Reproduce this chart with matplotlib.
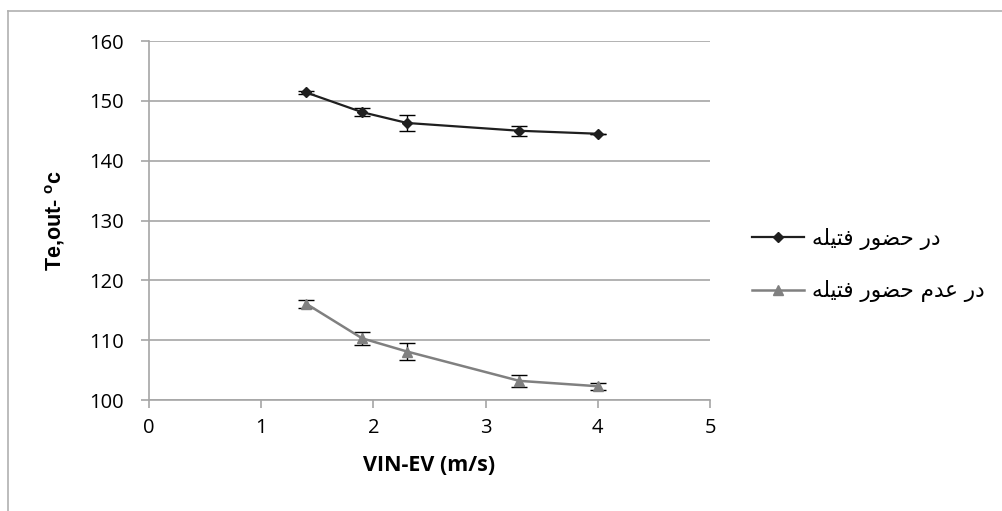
import matplotlib.pyplot as plt
from matplotlib.lines import Line2D

# velocity (m/s)
vin = [1.4, 1.9, 2.3, 3.3, 4.0]

# outlet temperature with wick / without wick
te_wick = [151.4, 148.1, 146.3, 145.0, 144.5]
err_wick = [0.3, 0.7, 1.3, 0.85, 0.0]
te_nowick = [116.1, 110.3, 108.1, 103.2, 102.3]
err_nowick = [0.65, 1.1, 1.35, 0.95, 0.6]

# legend labels, pre-shaped arabic presentation forms in visual order
# "در حضور فتیله" and "در عدم حضور فتیله"
w_fatile = "\uFEEA\uFEE0\uFEF4\uFE98\uFED3"
w_hozur = "\uFEAD\uFEEE\uFEC0\uFEA3"
w_adam = "\uFEE1\uFEAA\uFECB"
w_dar = "\uFEAD\uFEA9"
label_wick = " ".join([w_fatile, w_hozur, w_dar])
label_nowick = " ".join([w_fatile, w_hozur, w_adam, w_dar])

xticks = [0, 1, 2, 3, 4, 5]
yticks = [100, 110, 120, 130, 140, 150, 160]

plt.rcParams['font.family'] = ['Open Sans', 'DejaVu Sans']

fig = plt.figure(figsize=(10.03, 5.11), dpi=100)
ax = fig.add_axes([149/1003, 1-400/511, (710-149)/1003, (400-41)/511])

grid_c = '#a6a6a6'
c_wick = '#1f1f1f'
c_nowick = '#808080'
ax.errorbar(vin, te_wick, yerr=err_wick, color=c_wick, lw=1.6, marker='D', ms=5,
            ecolor='black', elinewidth=1, capsize=6, capthick=1, zorder=3)
ax.errorbar(vin, te_nowick, yerr=err_nowick, color=c_nowick, lw=1.8, marker='^', ms=7,
            ecolor='black', elinewidth=1, capsize=6, capthick=1, zorder=3)

ax.set_xlim(0, 5)
ax.set_ylim(100, 160)
ax.set_xticks(xticks)
ax.set_yticks(yticks)
ax.yaxis.grid(True, color=grid_c, lw=1.2)
ax.set_axisbelow(True)
for s in ['top', 'right']:
    ax.spines[s].set_visible(False)
for s in ['left', 'bottom']:
    ax.spines[s].set_color(grid_c)
    ax.spines[s].set_linewidth(1.2)
ax.tick_params(axis='both', color=grid_c, length=6, width=1.2, labelsize=14.5, pad=7)
ax.tick_params(axis='y', pad=12)

ax.set_xlabel('VIN-EV (m/s)', fontsize=15.5, fontweight='bold', labelpad=12)
ax.set_ylabel('Te,out- $^{\\mathregular{o}}$c', fontsize=15.5, fontweight='bold',
              family=['Liberation Sans'], labelpad=16)

handles = [Line2D([], [], color=c_wick, lw=1.6, marker='D', ms=5),
           Line2D([], [], color=c_nowick, lw=1.8, marker='^', ms=7)]
leg = ax.legend(handles, [label_wick, label_nowick], loc='center left',
                bbox_to_anchor=(748/1003, 1-265/511),
                bbox_transform=fig.transFigure, frameon=False, handlelength=2.4,
                labelspacing=1.4, handletextpad=0.35, borderaxespad=0, borderpad=0.2,
                prop={'family': ['DejaVu Sans'], 'size': 15.5})

# outer chart border (left and top edges)
fig.add_artist(Line2D([8/1003, 8/1003], [0, 1-11/511], transform=fig.transFigure,
                      color='#b0b0b0', lw=1.2))
fig.add_artist(Line2D([8/1003, 1], [1-11/511, 1-11/511], transform=fig.transFigure,
                      color='#b0b0b0', lw=1.2))

fig.savefig('out.png', dpi=100)
